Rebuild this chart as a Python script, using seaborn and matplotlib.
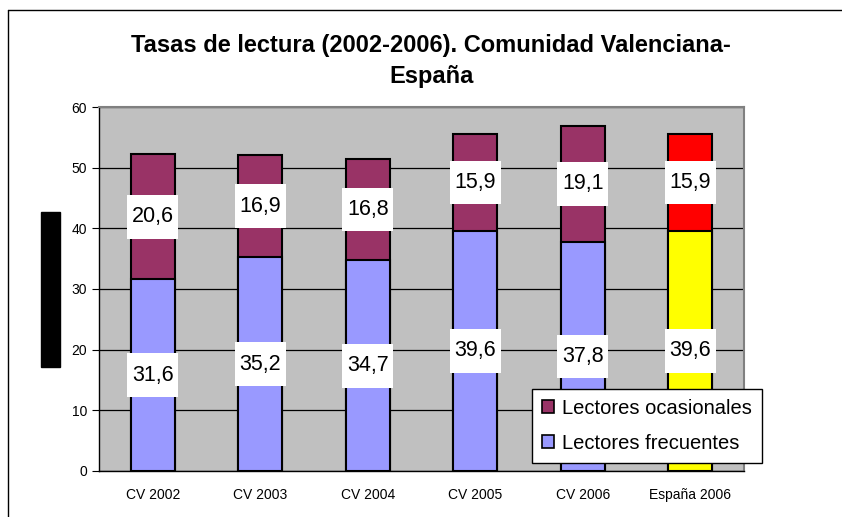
import matplotlib
matplotlib.use("Agg")
import matplotlib.pyplot as plt
import seaborn as sns
import pandas as pd
from matplotlib.patches import Patch, Rectangle
from matplotlib.lines import Line2D

categorias = ["CV 2002", "CV 2003", "CV 2004", "CV 2005", "CV 2006", "España 2006"]
frecuentes = [31.6, 35.2, 34.7, 39.6, 37.8, 39.6]
ocasionales = [20.6, 16.9, 16.8, 15.9, 19.1, 15.9]

col_frec = ["#9999FF"] * 5 + ["#FFFF00"]
col_ocas = ["#993366"] * 5 + ["#FF0000"]

df = pd.DataFrame({"cat": categorias, "frec": frecuentes, "ocas": ocasionales})
df["total"] = df["frec"] + df["ocas"]

sns.set_style("white")
plt.rcParams["font.family"] = ["Liberation Sans", "DejaVu Sans"]
plt.rcParams["text.color"] = "black"
plt.rcParams["xtick.color"] = "black"
plt.rcParams["ytick.color"] = "black"

fig = plt.figure(figsize=(8.42, 5.17), dpi=100)
ax = fig.add_axes([99 / 842, 1 - 471 / 517, 645 / 842, 364 / 517])
ax.set_facecolor("#C0C0C0")

sns.barplot(data=df, x="cat", y="total", hue="cat", palette=col_ocas, legend=False,
            saturation=1, width=0.41, edgecolor="black", linewidth=1.5, ax=ax, zorder=3)
sns.barplot(data=df, x="cat", y="frec", hue="cat", palette=col_frec, legend=False,
            saturation=1, width=0.41, edgecolor="black", linewidth=1.5, ax=ax, zorder=4)

# white label boxes centred on each segment
bw, bh = 0.475, 7.2
for i, (f, o) in enumerate(zip(frecuentes, ocasionales)):
    for yv, val in [(f / 2, f), (f + o / 2, o)]:
        ax.add_patch(Rectangle((i - bw / 2, yv - bh / 2), bw, bh, facecolor="white",
                               edgecolor="none", zorder=5))
        ax.text(i, yv, f"{val:.1f}".replace(".", ","), ha="center", va="center",
                fontsize=15.5, zorder=6)

ax.set_ylim(0, 60)
ax.set_yticks(range(0, 61, 10))
ax.yaxis.grid(True, color="black", linewidth=0.9)
ax.set_axisbelow(True)
ax.set_xlabel("")
ax.set_ylabel("")
ax.tick_params(axis="both", labelsize=10, direction="out", length=5, color="black",
               left=True, bottom=True)
ax.set_xticks([i - 0.5 for i in range(7)], minor=True)
ax.tick_params(axis="x", which="major", length=0, pad=12)
ax.tick_params(axis="x", which="minor", length=5, color="black")
for s in ["top", "right"]:
    ax.spines[s].set_color("#808080")
    ax.spines[s].set_linewidth(1.5)
for s in ["left", "bottom"]:
    ax.spines[s].set_color("black")
    ax.spines[s].set_linewidth(1)

handles = [Patch(facecolor="#993366", edgecolor="black", linewidth=1.2, label="Lectores ocasionales"),
           Patch(facecolor="#9999FF", edgecolor="black", linewidth=1.2, label="Lectores frecuentes")]
leg = ax.legend(handles=handles, loc="lower right", bbox_to_anchor=(1.028, 0.022),
                fontsize=14.5, frameon=True, fancybox=False, framealpha=1,
                edgecolor="black", handlelength=0.6, handleheight=0.6,
                handletextpad=0.4, borderpad=0.5, labelspacing=0.8, borderaxespad=0)
leg.get_frame().set_linewidth(1)
leg.set_zorder(10)

fig.suptitle("Tasas de lectura (2002-2006). Comunidad Valenciana-\nEspaña",
             x=0.512, y=0.935, fontsize=17, fontweight="bold", linespacing=1.45,
             color="black")

# redacted y-axis title block
fig.patches.append(Rectangle((41 / 842, 1 - 367 / 517), 19 / 842, 155 / 517,
                             transform=fig.transFigure, color="black"))
# outer frame (top and left)
fig.add_artist(Line2D([8 / 842, 1], [1 - 10 / 517] * 2, color="black", linewidth=1,
                      transform=fig.transFigure))
fig.add_artist(Line2D([8 / 842] * 2, [0, 1 - 10 / 517], color="black", linewidth=1,
                      transform=fig.transFigure))

fig.savefig("out.png", dpi=100)
